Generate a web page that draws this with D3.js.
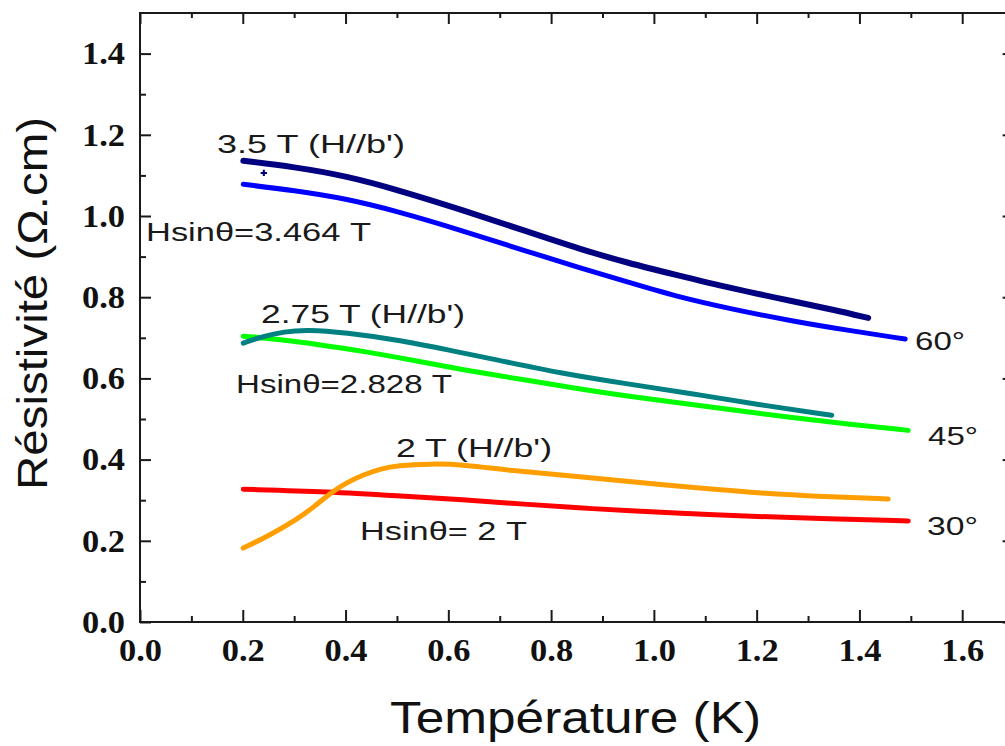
<!DOCTYPE html>
<html>
<head>
<meta charset="utf-8">
<script src="https://cdn.jsdelivr.net/npm/d3@7"></script>
<style>
  html, body { margin: 0; padding: 0; background: #fff; }
  svg { display: block; }
</style>
</head>
<body>
<svg id="chart" width="1005" height="746"></svg>
<script>
// ---- data (T in K, resistivity in Ω.cm) ----
const navy35T = [[0.201,1.136],[0.30,1.121],[0.40,1.099],[0.50,1.065],[0.63,1.014],[0.75,0.963],[0.86,0.917],[0.95,0.884],[1.04,0.856],[1.15,0.822],[1.27,0.790],[1.35,0.769],[1.417,0.749]];
const blue60 = [[0.201,1.078],[0.30,1.063],[0.40,1.043],[0.50,1.012],[0.63,0.963],[0.75,0.914],[0.86,0.871],[0.95,0.837],[1.04,0.803],[1.15,0.771],[1.27,0.741],[1.38,0.718],[1.489,0.697]];
const teal275T = [[0.201,0.687],[0.24,0.704],[0.28,0.715],[0.324,0.720],[0.40,0.713],[0.50,0.695],[0.60,0.670],[0.694,0.646],[0.817,0.613],[0.95,0.586],[1.077,0.562],[1.20,0.536],[1.346,0.509]];
const green45 = [[0.201,0.704],[0.272,0.696],[0.35,0.683],[0.435,0.667],[0.53,0.645],[0.629,0.621],[0.75,0.596],[0.856,0.574],[0.95,0.556],[1.077,0.535],[1.271,0.503],[1.38,0.487],[1.495,0.472]];
const orange2T = [[0.201,0.182],[0.25,0.212],[0.305,0.252],[0.34,0.285],[0.37,0.317],[0.40,0.342],[0.435,0.363],[0.47,0.378],[0.50,0.385],[0.564,0.390],[0.629,0.388],[0.726,0.372],[0.856,0.358],[1.012,0.338],[1.206,0.317],[1.33,0.309],[1.456,0.303]];
const red30 = [[0.201,0.327],[0.370,0.321],[0.50,0.311],[0.629,0.301],[0.75,0.290],[0.856,0.281],[0.95,0.274],[1.077,0.266],[1.20,0.260],[1.336,0.254],[1.495,0.249]];
const strayPoints = [[0.241,1.106]];

const seriesNames = ["30°","2 T","45°","2.75 T","60°","3.5 T"];
const seriesColors = ["#ff0000","#ff9e00","#00ff00","#008080","#0000ff","#000080"];
const seriesData = [red30, orange2T, green45, teal275T, blue60, navy35T];

const xMajorTicks = [0.0,0.2,0.4,0.6,0.8,1.0,1.2,1.4,1.6];
const xMinorTicks = [0.1,0.3,0.5,0.7,0.9,1.1,1.3,1.5];
const yMajorTicks = [0.0,0.2,0.4,0.6,0.8,1.0,1.2,1.4];
const yMinorTicks = [0.1,0.3,0.5,0.7,0.9,1.1,1.3];

const annotations = [
  {text:"3.5 T (H//b')", x:217, y:153, w:188},
  {text:"Hsinθ=3.464 T", x:146, y:241, w:225},
  {text:"2.75 T (H//b')", x:261, y:323, w:204},
  {text:"Hsinθ=2.828 T", x:236, y:393, w:216},
  {text:"2 T (H//b')", x:396, y:457, w:156},
  {text:"Hsinθ= 2 T", x:360, y:540, w:167},
  {text:"60°", x:915, y:350, w:50},
  {text:"45°", x:928, y:445, w:50},
  {text:"30°", x:927, y:535, w:51}
];

// ---- layout ----
const svg = d3.select("#chart");
const x = d3.scaleLinear().domain([0, 1.7]).range([140, 1013.6]);
const y = d3.scaleLinear().domain([0, 1.5]).range([622, 13]);
const axisColor = "#1a1a1a";

function styleAxis(g) {
  g.select(".domain").remove();
  g.selectAll(".tick line").attr("stroke", axisColor).attr("stroke-width", 2);
}

// bottom axis
svg.append("g").attr("transform", `translate(0,${y(0)})`)
  .call(d3.axisBottom(x).tickValues(xMajorTicks).tickSize(-12).tickPadding(16).tickFormat(d3.format(".1f")))
  .call(styleAxis)
  .call(g => g.selectAll("text").attr("font-family","'Liberation Serif','Times New Roman',serif")
      .attr("font-size",32).attr("font-weight","bold").attr("fill","#111")
      .attr("textLength",43).attr("lengthAdjust","spacingAndGlyphs"));
svg.append("g").attr("transform", `translate(0,${y(0)})`)
  .call(d3.axisBottom(x).tickValues(xMinorTicks).tickSize(-6).tickFormat(""))
  .call(styleAxis);
// top axis
svg.append("g").attr("transform", `translate(0,${y(1.5)})`)
  .call(d3.axisTop(x).tickValues(xMajorTicks).tickSize(-11).tickFormat(""))
  .call(styleAxis);
svg.append("g").attr("transform", `translate(0,${y(1.5)})`)
  .call(d3.axisTop(x).tickValues(xMinorTicks).tickSize(-5).tickFormat(""))
  .call(styleAxis);
// left axis
svg.append("g").attr("transform", `translate(${x(0)},0)`)
  .call(d3.axisLeft(y).tickValues(yMajorTicks).tickSize(-11).tickPadding(15).tickFormat(d3.format(".1f")))
  .call(styleAxis)
  .call(g => g.selectAll("text").attr("font-family","'Liberation Serif','Times New Roman',serif")
      .attr("font-size",32).attr("font-weight","bold").attr("fill","#111")
      .attr("dy","0.32em").attr("textLength",43).attr("lengthAdjust","spacingAndGlyphs"));
svg.append("g").attr("transform", `translate(${x(0)},0)`)
  .call(d3.axisLeft(y).tickValues(yMinorTicks).tickSize(-6).tickFormat(""))
  .call(styleAxis);
// right axis
svg.append("g").attr("transform", `translate(${x(1.7)},0)`)
  .call(d3.axisRight(y).tickValues(yMajorTicks).tickSize(-11).tickFormat(""))
  .call(styleAxis);

// spines
svg.append("line").attr("x1", x(0)).attr("x2", x(0)).attr("y1", y(1.5)-1).attr("y2", y(0)+1)
  .attr("stroke", axisColor).attr("stroke-width", 2);
svg.append("line").attr("x1", x(0)).attr("x2", x(1.7)).attr("y1", y(0)).attr("y2", y(0))
  .attr("stroke", axisColor).attr("stroke-width", 2);
svg.append("line").attr("x1", x(0)).attr("x2", x(1.7)).attr("y1", y(1.5)).attr("y2", y(1.5))
  .attr("stroke", axisColor).attr("stroke-width", 2);

// series
const line = d3.line().x(d => x(d[0])).y(d => y(d[1])).curve(d3.curveBasis);
seriesData.forEach((data, i) => {
  svg.append("path").datum(data)
    .attr("fill", "none")
    .attr("stroke", seriesColors[i])
    .attr("stroke-width", i === 5 ? 6 : 5)
    .attr("stroke-linecap", "round")
    .attr("stroke-linejoin", "round")
    .attr("d", line)
    .append("title").text(seriesNames[i]);
});
svg.selectAll(".stray").data(strayPoints).enter().append("path")
  .attr("class","stray")
  .attr("transform", d => `translate(${x(d[0])},${y(d[1])})`)
  .attr("d", d3.symbol().type(d3.symbolCross).size(22))
  .attr("fill", "#000080");

// annotations
svg.selectAll(".ann").data(annotations).enter().append("text")
  .attr("class","ann")
  .attr("x", d => d.x).attr("y", d => d.y)
  .attr("font-family","'Liberation Sans',Arial,sans-serif")
  .attr("font-size",25).attr("fill","#1a1a1a")
  .attr("textLength", d => d.w).attr("lengthAdjust","spacingAndGlyphs")
  .text(d => d.text);

// axis titles
svg.append("text")
  .attr("x", 390).attr("y", 733)
  .attr("font-family","'Liberation Sans',Arial,sans-serif")
  .attr("font-size",44).attr("fill","#111")
  .attr("textLength",371).attr("lengthAdjust","spacingAndGlyphs")
  .text("Température (K)");
svg.append("text")
  .attr("transform","translate(47,490) rotate(-90)")
  .attr("font-family","'Liberation Sans',Arial,sans-serif")
  .attr("font-size",43).attr("fill","#111")
  .attr("textLength",373).attr("lengthAdjust","spacingAndGlyphs")
  .text("Résistivité (Ω.cm)");
</script>
</body>
</html>
